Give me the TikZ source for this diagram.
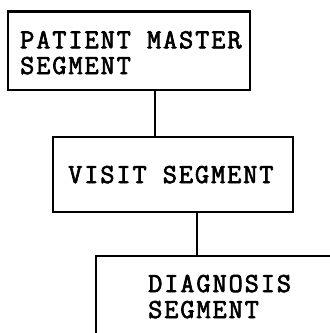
\documentclass[tikz,border=0pt]{standalone}
\usepackage{fontspec}
\newfontfamily\typew{Latin Modern Mono}[FakeBold=2.5,LetterSpace=7]
\begin{document}
\begin{tikzpicture}[x=1pt,y=-1pt,
  segbox/.style={draw=black,line width=2.3pt,rectangle,inner sep=0pt},
  seglabel/.style={anchor=base west,inner sep=0pt,text height=17pt,text depth=0pt,
    font=\typew\fontsize{27.5}{26}\selectfont},
  link/.style={draw=black,line width=2.3pt}]
\useasboundingbox (0,0) rectangle (330,333);
\clip (0,0) rectangle (330,333);
% segment boxes
\node[segbox,minimum width=242pt,minimum height=78.5pt] (pm) at (129,50.75) {};
\node[segbox,minimum width=240pt,minimum height=75pt] (vs) at (173,174.5) {};
\node[segbox,minimum width=300pt,minimum height=150pt] (dg) at (246,331) {};
% box texts
\node[seglabel] (pm1) at (20,48.3) {PATIENT MASTER};
\node[seglabel] (pm2) at (20,74) {SEGMENT};
\node[seglabel] (vs1) at (68,183) {VISIT SEGMENT};
\node[seglabel] (dg1) at (148,292) {DIAGNOSIS};
\node[seglabel] (dg2) at (148,318) {SEGMENT};
% hierarchy links
\coordinate (k1) at (155,0);
\coordinate (k2) at (197,0);
\draw[link] (pm.south -| k1) -- (vs.north -| k1);
\draw[link] (vs.south -| k2) -- (dg.north -| k2);
\end{tikzpicture}
\end{document}
